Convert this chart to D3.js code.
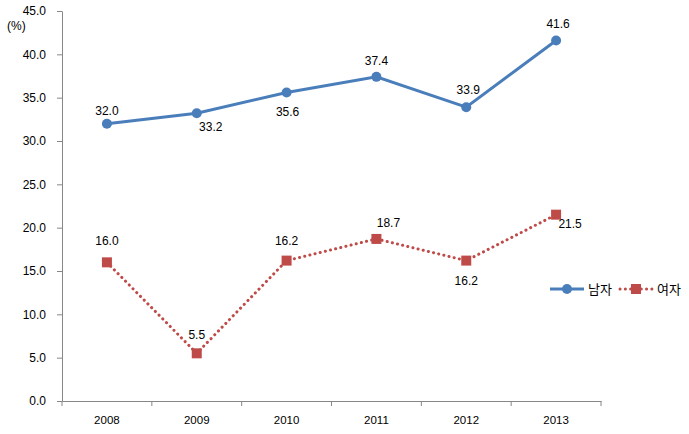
<!DOCTYPE html>
<html><head><meta charset="utf-8">
<script src="https://cdn.jsdelivr.net/npm/d3@7/dist/d3.min.js"></script>
<style>body{margin:0;background:#fff}svg{display:block;font-family:"Liberation Sans",Arial,"Noto Sans CJK KR",sans-serif}</style>
</head><body><svg id="c" width="689" height="434"></svg>
<script>
const years = ["2008","2009","2010","2011","2012","2013"];
const male = [32.0,33.2,35.6,37.4,33.9,41.6];
const female = [16.0,5.5,16.2,18.7,16.2,21.5];
const yTicks = [0,5,10,15,20,25,30,35,40,45];
const seriesNames = ["남자","여자"];
// label offsets [dx,dy] relative to point
const maleLabelPos = [[0,-13],[14,14],[1,20],[0,-16],[2,-17],[2,-16]];
const femaleLabelPos = [[0,-21],[0,-18],[0,-20],[12,-16],[0,20],[14,9]];

const svg = d3.select("#c");
const x = d3.scaleBand().domain(years).range([62,601]);
const y = d3.scaleLinear().domain([0,45]).range([401,11]);
const blue = "#4A7EBB", red = "#BE4B48";

const gy = svg.append("g").attr("transform","translate(62,0)")
  .call(d3.axisLeft(y).tickValues(yTicks).tickFormat(d3.format(".1f")).tickSize(5).tickSizeOuter(0));
gy.select(".domain").attr("stroke","#868686");
gy.selectAll(".tick line").attr("stroke","#868686");
gy.selectAll(".tick text").attr("font-size",12).attr("fill","#000").attr("x",-16).attr("font-family","inherit");

const gx = svg.append("g").attr("transform","translate(0,401)")
  .call(d3.axisBottom(x).tickSize(0).tickSizeOuter(0));
gx.select(".domain").attr("stroke","#868686");
gx.selectAll(".tick text").attr("font-size",11.5).attr("fill","#000").attr("dy","1.7em").attr("font-family","inherit");
// band boundary ticks
const bounds = years.map(d=>x(d)).concat([x.range()[1]]);
gx.selectAll(".bt").data(bounds).enter().append("line")
  .attr("x1",d=>d).attr("x2",d=>d).attr("y1",0).attr("y2",5).attr("stroke","#868686");

svg.append("text").attr("x",7).attr("y",30).attr("font-size",12).text("(%)");

const cx = d => x(d)+x.bandwidth()/2;
const line = d3.line().x((d,i)=>cx(years[i])).y(d=>y(d));

svg.append("path").datum(male).attr("d",line).attr("fill","none").attr("stroke",blue).attr("stroke-width",3);
svg.append("path").datum(female).attr("d",line).attr("fill","none").attr("stroke",red).attr("stroke-width",3)
  .attr("stroke-dasharray","0.1 5.2").attr("stroke-linecap","round");

svg.selectAll(".mc").data(male).enter().append("circle")
  .attr("cx",(d,i)=>cx(years[i])).attr("cy",d=>y(d)).attr("r",5).attr("fill",blue);
svg.selectAll(".fs").data(female).enter().append("rect")
  .attr("x",(d,i)=>cx(years[i])-5).attr("y",d=>y(d)-5).attr("width",10).attr("height",10).attr("fill",red);

svg.selectAll(".ml").data(male).enter().append("text")
  .attr("x",(d,i)=>cx(years[i])+maleLabelPos[i][0]).attr("y",(d,i)=>y(d)+maleLabelPos[i][1]+4)
  .attr("text-anchor","middle").attr("font-size",12).text(d=>d.toFixed(1));
svg.selectAll(".fl").data(female).enter().append("text")
  .attr("x",(d,i)=>cx(years[i])+femaleLabelPos[i][0]).attr("y",(d,i)=>y(d)+femaleLabelPos[i][1]+4)
  .attr("text-anchor","middle").attr("font-size",12).text(d=>d.toFixed(1));

// legend
const lg = svg.append("g");
lg.append("line").attr("x1",550).attr("x2",584).attr("y1",289).attr("y2",289).attr("stroke",blue).attr("stroke-width",3);
lg.append("circle").attr("cx",567).attr("cy",289).attr("r",5).attr("fill",blue);
lg.append("text").attr("x",588).attr("y",294).attr("font-size",13).attr("font-family","Noto Sans CJK KR").text(seriesNames[0]);
lg.append("line").attr("x1",620).attr("x2",652).attr("y1",289).attr("y2",289).attr("stroke",red).attr("stroke-width",3)
  .attr("stroke-dasharray","0.1 5.2").attr("stroke-linecap","round");
lg.append("rect").attr("x",631).attr("y",284).attr("width",10).attr("height",10).attr("fill",red);
lg.append("text").attr("x",657).attr("y",294).attr("font-size",13).attr("font-family","Noto Sans CJK KR").text(seriesNames[1]);
</script></body></html>
